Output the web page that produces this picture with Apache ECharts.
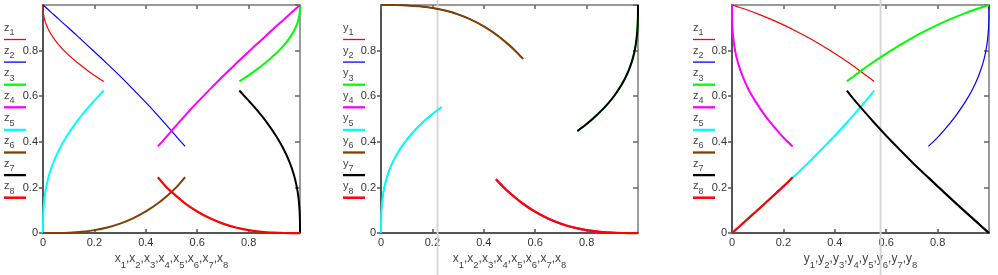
<!DOCTYPE html>
<html><head><meta charset="utf-8">
<script src="https://cdn.jsdelivr.net/npm/echarts@6/dist/echarts.min.js"></script>
<style>html,body{margin:0;padding:0;background:#fff}#c{width:998px;height:275px}</style>
</head><body><div id="c"></div><script>
// ---- data (8 parametric curves x_i, y_i, z_i) ----
const x1 = [0, 0.0001, 0.0004, 0.0018, 0.0057, 0.0129, 0.0244, 0.0411, 0.0639, 0.0936, 0.1309, 0.177, 0.2035, 0.236];
const y1 = [0, 0.03, 0.06, 0.1, 0.15, 0.2, 0.25, 0.3, 0.35, 0.4, 0.45, 0.5, 0.525, 0.553];
const z1 = [1, 0.989, 0.978, 0.961, 0.938, 0.913, 0.885, 0.855, 0.822, 0.787, 0.75, 0.71, 0.689, 0.665];

const x2 = [0, 0.03, 0.06, 0.1, 0.15, 0.2, 0.25, 0.3, 0.35, 0.4, 0.45, 0.5, 0.525, 0.553];
const y2 = [1, 0.9999, 0.9996, 0.9982, 0.9943, 0.9871, 0.9756, 0.9589, 0.9361, 0.9064, 0.8691, 0.823, 0.7965, 0.764];
const z2 = [1, 0.97, 0.939, 0.899, 0.847, 0.795, 0.742, 0.688, 0.631, 0.573, 0.512, 0.448, 0.415, 0.38];

const x3 = [1, 0.9999, 0.9996, 0.9982, 0.9943, 0.9871, 0.9756, 0.9589, 0.9361, 0.9064, 0.8691, 0.823, 0.7965, 0.764];
const y3 = [1, 0.97, 0.94, 0.9, 0.85, 0.8, 0.75, 0.7, 0.65, 0.6, 0.55, 0.5, 0.475, 0.447];
const z3 = [1, 0.989, 0.978, 0.961, 0.938, 0.913, 0.885, 0.855, 0.822, 0.787, 0.75, 0.71, 0.689, 0.665];

const x4 = [1, 0.97, 0.94, 0.9, 0.85, 0.8, 0.75, 0.7, 0.65, 0.6, 0.55, 0.5, 0.475, 0.447];
const y4 = [0, 0.0001, 0.0004, 0.0018, 0.0057, 0.0129, 0.0244, 0.0411, 0.0639, 0.0936, 0.1309, 0.177, 0.2035, 0.236];
const z4 = [1, 0.97, 0.939, 0.899, 0.847, 0.795, 0.742, 0.688, 0.631, 0.573, 0.512, 0.448, 0.415, 0.38];

const x5 = [0, 0.0001, 0.0004, 0.0018, 0.0057, 0.0129, 0.0244, 0.0411, 0.0639, 0.0936, 0.1309, 0.177, 0.2035, 0.236];
const y5 = [0, 0.03, 0.06, 0.1, 0.15, 0.2, 0.25, 0.3, 0.35, 0.4, 0.45, 0.5, 0.525, 0.553];
const z5 = [0, 0.03, 0.061, 0.101, 0.153, 0.205, 0.258, 0.312, 0.369, 0.427, 0.488, 0.552, 0.585, 0.625];

const x6 = [0, 0.03, 0.06, 0.1, 0.15, 0.2, 0.25, 0.3, 0.35, 0.4, 0.45, 0.5, 0.525, 0.553];
const y6 = [1, 0.9999, 0.9996, 0.9982, 0.9943, 0.9871, 0.9756, 0.9589, 0.9361, 0.9064, 0.8691, 0.823, 0.7965, 0.764];
const z6 = [0, 0.0001, 0.0004, 0.0018, 0.0057, 0.0131, 0.0247, 0.0416, 0.0647, 0.0949, 0.133, 0.1806, 0.2081, 0.245];

const x7 = [1, 0.9999, 0.9996, 0.9982, 0.9943, 0.9871, 0.9756, 0.9589, 0.9361, 0.9064, 0.8691, 0.823, 0.7965, 0.764];
const y7 = [1, 0.97, 0.94, 0.9, 0.85, 0.8, 0.75, 0.7, 0.65, 0.6, 0.55, 0.5, 0.475, 0.447];
const z7 = [0, 0.03, 0.061, 0.101, 0.153, 0.205, 0.258, 0.312, 0.369, 0.427, 0.488, 0.552, 0.585, 0.625];

const x8 = [1, 0.97, 0.94, 0.9, 0.85, 0.8, 0.75, 0.7, 0.65, 0.6, 0.55, 0.5, 0.475, 0.447];
const y8 = [0, 0.0001, 0.0004, 0.0018, 0.0057, 0.0129, 0.0244, 0.0411, 0.0639, 0.0936, 0.1309, 0.177, 0.2035, 0.236];
const z8 = [0, 0.0001, 0.0004, 0.0018, 0.0057, 0.0131, 0.0247, 0.0416, 0.0647, 0.0949, 0.133, 0.1806, 0.2081, 0.245];

const seriesIdx = ['1', '2', '3', '4', '5', '6', '7', '8'];
const cursorValues = [null, 0.22, 0.578];   // trace cursors in panels 2 and 3

// ---- styles ----
const colors = ['#ff0000', '#0000ff', '#00ff00', '#ff00ff', '#00ffff', '#804000', '#000000', '#ff0000'];
const widths = [1.2, 1.2, 2, 2, 2, 2, 2, 2.2];
const FF = '"Liberation Sans", Arial, sans-serif';

const X = [x1, x2, x3, x4, x5, x6, x7, x8];
const Y = [y1, y2, y3, y4, y5, y6, y7, y8];
const Z = [z1, z2, z3, z4, z5, z6, z7, z8];

const panels = [
  { h: X, v: Z, leg: 'z', title: 'x', left: 43, legX: 4 },
  { h: X, v: Y, leg: 'y', title: 'x', left: 381, legX: 343 },
  { h: Y, v: Z, leg: 'z', title: 'y', left: 732, legX: 693 }
];
const GT = 5, GW = 257, GH = 231;

const rich = {
  m: { fontSize: 12, lineHeight: 12, verticalAlign: 'top', color: '#444', fontFamily: FF },
  s: { fontSize: 9.5, lineHeight: 17, verticalAlign: 'bottom', color: '#444', fontFamily: FF }
};
function subName(letter, k) { return '{m|' + letter + '}{s|' + k + '}'; }

const grid = [], xAxis = [], yAxis = [], series = [];
panels.forEach((p, g) => {
  grid.push({ left: p.left, top: GT, width: GW, height: GH });
  xAxis.push({
    type: 'value', gridIndex: g, position: 'bottom', min: 0, max: 1, interval: 0.2,
    axisLine: { onZero: false, lineStyle: { color: '#555', width: 2 } },
    axisTick: { inside: true, length: 4, lineStyle: { color: '#555', width: 1.5 } },
    axisLabel: { margin: 4, showMaxLabel: false, color: '#333', fontSize: 11, fontFamily: FF },
    splitLine: { show: false },
    name: seriesIdx.map(k => subName(p.title, k)).join('{m|,}'),
    nameLocation: 'middle', nameGap: 17,
    nameTextStyle: { rich: rich, color: '#444' }
  });
  xAxis.push({
    type: 'value', gridIndex: g, position: 'top', min: 0, max: 1, interval: 0.2,
    axisLine: { onZero: false, lineStyle: { color: '#7a7a7a', width: 1.5 } },
    axisTick: { inside: true, length: 4, lineStyle: { color: '#666', width: 1.5 } },
    axisLabel: { show: false }, splitLine: { show: false }
  });
  yAxis.push({
    type: 'value', gridIndex: g, position: 'left', min: 0, max: 1, interval: 0.2,
    axisLine: { onZero: false, lineStyle: { color: '#555', width: 2 } },
    axisTick: { inside: false, length: 4, lineStyle: { color: '#555', width: 1.5 } },
    axisLabel: { margin: 5, showMaxLabel: false, color: '#333', fontSize: 11, fontFamily: FF },
    splitLine: { show: false }
  });
  yAxis.push({
    type: 'value', gridIndex: g, position: 'right', min: 0, max: 1, interval: 0.2,
    axisLine: { onZero: false, lineStyle: { color: '#7a7a7a', width: 1.5 } },
    axisTick: { inside: true, length: 5, lineStyle: { color: '#666', width: 1.5 } },
    axisLabel: { show: false }, splitLine: { show: false }
  });
  for (let i = 0; i < 8; i++) {
    const hs = p.h[i], vs = p.v[i];
    series.push({
      type: 'line', name: p.leg + seriesIdx[i],
      xAxisIndex: 2 * g, yAxisIndex: 2 * g,
      data: hs.map((val, k) => [val, vs[k]]),
      showSymbol: false, symbol: 'none', smooth: 0.3, clip: false, silent: true,
      lineStyle: { color: colors[i], width: widths[i] },
      itemStyle: { color: colors[i] }, z: 3
    });
  }
});

const chart = echarts.init(document.getElementById('c'), null, { renderer: 'canvas' });
chart.setOption({ animation: false, backgroundColor: '#fff', grid, xAxis, yAxis, series });

// legend (label above a sample line) and cursor lines
const elements = [];
panels.forEach((p, g) => {
  for (let i = 0; i < 8; i++) {
    const ly = 39.5 + 22.6 * i;
    elements.push({
      type: 'text', left: p.legX, top: ly - 17, z: 10,
      style: { text: subName(p.leg, seriesIdx[i]), rich: {
        m: { fontSize: 11, lineHeight: 11, verticalAlign: 'top', fill: '#444', fontFamily: FF },
        s: { fontSize: 9, lineHeight: 15, verticalAlign: 'bottom', fill: '#444', fontFamily: FF } } }
    });
    elements.push({
      type: 'line', z: 10,
      shape: { x1: p.legX, y1: ly, x2: p.legX + 22, y2: ly },
      style: { stroke: colors[i], lineWidth: widths[i] + (i >= 2 ? 0.3 : 0.1) }
    });
  }
  if (cursorValues[g] != null) {
    const px = chart.convertToPixel({ xAxisIndex: 2 * g }, cursorValues[g]);
    elements.push({
      type: 'line', z: 1,
      shape: { x1: px, y1: 0, x2: px, y2: 275 },
      style: { stroke: '#d4d4d4', lineWidth: 1.8 }
    });
  }
});
chart.setOption({ graphic: { elements } });
</script></body></html>
